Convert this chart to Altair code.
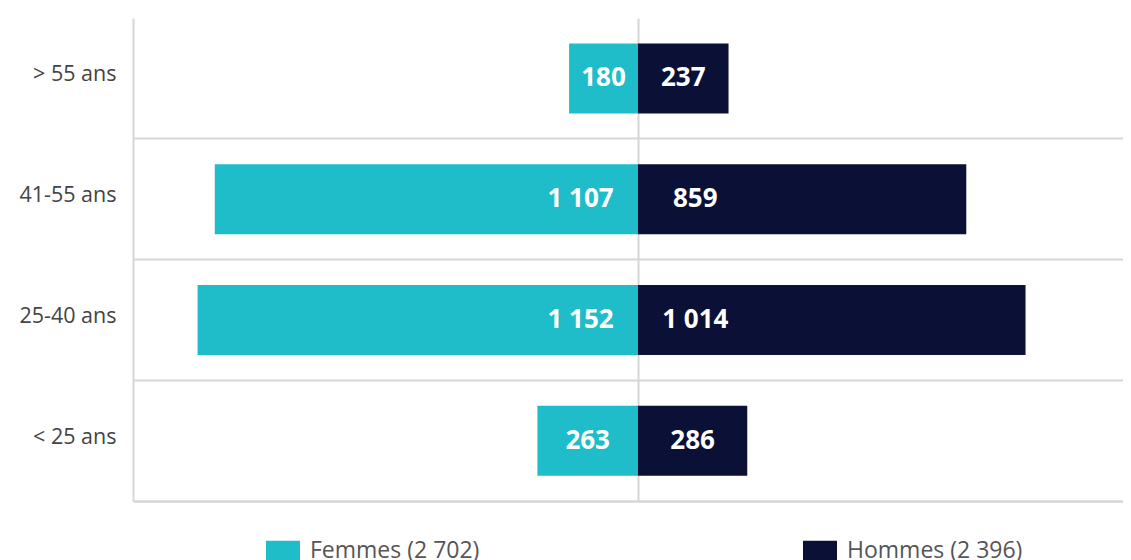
import altair as alt
import pandas as pd

ages = ["> 55 ans", "41-55 ans", "25-40 ans", "< 25 ans"]
femmes = [180, 1107, 1152, 263]
hommes = [237, 859, 1014, 286]
colors = ["#1EBDC9", "#0A1036"]
FONT = "Open Sans"
GRID = "#d6d6d6"


def fmt(v):
    return f"{v:,}".replace(",", " ")


lab_f = f"Femmes ({fmt(sum(femmes))})"
lab_h = f"Hommes ({fmt(sum(hommes))})"

rows = []
for a, f, h in zip(ages, femmes, hommes):
    rows.append(dict(age=a, sexe=lab_f, value=-f, label=fmt(f), pos=-min(f / 2, 150)))
    rows.append(dict(age=a, sexe=lab_h, value=h, label=fmt(h), pos=min(h / 2, 150)))
df = pd.DataFrame(rows)

H = 483
xscale = alt.Scale(domain=[-1321, 1269], nice=False, zero=False)
yenc = alt.Y(
    "age:N",
    sort=ages,
    scale=alt.Scale(paddingInner=0, paddingOuter=0),
    axis=alt.Axis(
        title=None, ticks=False, labelPadding=17, labelFontSize=21.5, labelColor="#444444",
        labelFont=FONT, grid=True, bandPosition=1, labelOffset=-3,
        gridColor=GRID, gridWidth=2, domainColor=GRID, domainWidth=2,
    ),
)

bars = alt.Chart(df).mark_bar(size=70).encode(
    x=alt.X(
        "value:Q", scale=xscale,
        axis=alt.Axis(values=[0], grid=True, gridColor=GRID, gridWidth=2, labels=False,
                      ticks=False, title=None, domainColor=GRID, domainWidth=2),
    ),
    y=yenc,
    color=alt.Color(
        "sexe:N", sort=[lab_f, lab_h],
        scale=alt.Scale(domain=[lab_f, lab_h], range=colors),
        legend=alt.Legend(
            title=None, orient="none", legendX=133, legendY=516, direction="horizontal",
            columns=2, columnPadding=323, symbolType="M-1,-0.6H1V0.6H-1Z", symbolSize=1156,
            symbolStrokeWidth=0, symbolOpacity=1, labelFontSize=23, labelColor="#555555",
            labelFont=FONT, labelOffset=10, labelLimit=400,
        ),
    ),
)

text = alt.Chart(df).mark_text(
    color="white", fontSize=26, fontWeight="bold", font=FONT, align="center", baseline="middle"
).encode(
    x=alt.X("pos:Q", scale=xscale),
    y=alt.Y("age:N", sort=ages),
    text="label:N",
)

chart = (
    alt.layer(bars, text)
    .properties(
        width=990, height=H,
        autosize=alt.AutoSizeParams(type="none"),
        padding={"left": 125, "top": 10, "right": 0, "bottom": 59},
    )
    .configure_view(stroke=None)
)

chart.save("out.html", embed_options={"renderer": "svg", "actions": False})
